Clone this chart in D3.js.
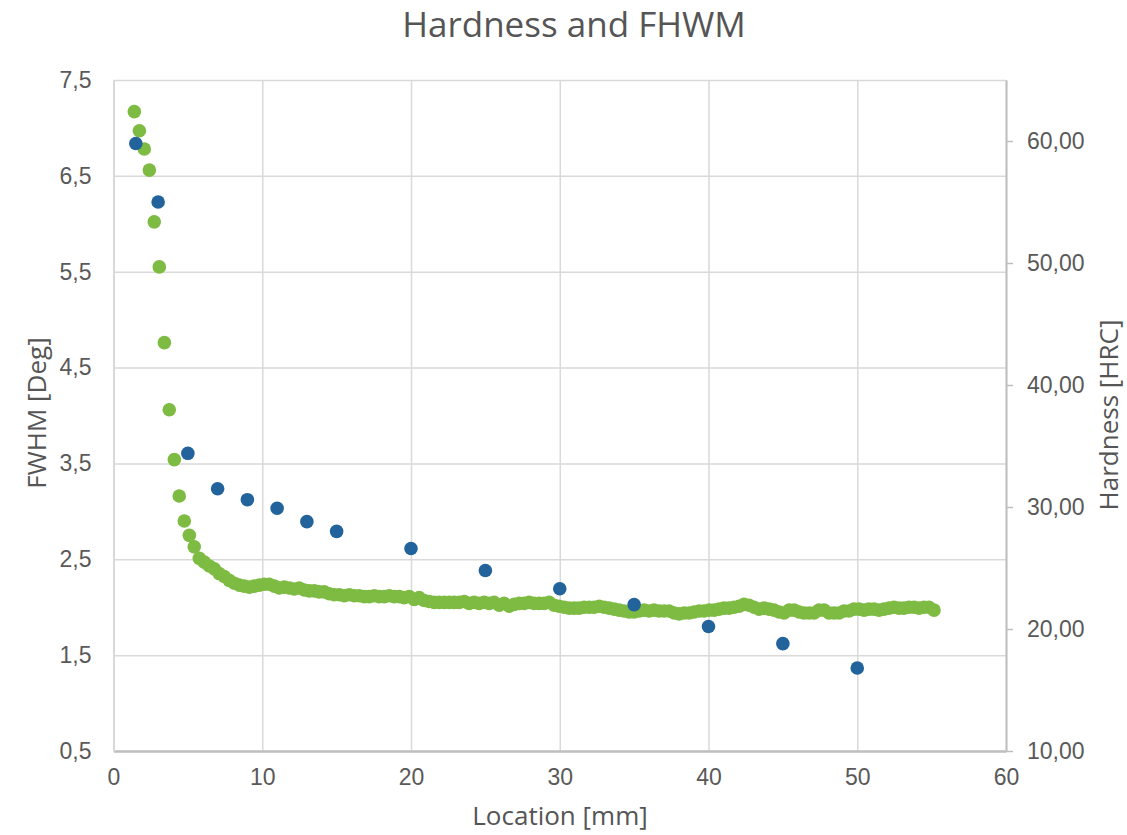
<!DOCTYPE html>
<html lang="en">
<head>
    <meta charset="UTF-8">
    <title>Hardness and FHWM</title>
    <script src="https://cdnjs.cloudflare.com/ajax/libs/d3/7.4.4/d3.min.js"></script>
    <style>
        body {
            margin: 0;
            background: #fff;
            font-family: 'Open Sans', 'Noto Sans', sans-serif;
        }
        .grid line { stroke: #d9d9d9; stroke-width: 1.5; }
        .tick text { fill: #595959; }
    </style>
</head>
<body>
    <div id="chart"></div>

    <script>
        // FWHM readings (left axis)
        const fwhmLocation = [
            1.40, 1.74, 2.07, 2.41, 2.74, 3.08, 3.42, 3.75, 4.09, 4.42,
            4.76, 5.10, 5.43, 5.77, 6.10, 6.44, 6.78, 7.11, 7.45, 7.78,
            8.12, 8.46, 8.79, 9.13, 9.46, 9.80, 10.14, 10.47, 10.81, 11.14,
            11.48, 11.82, 12.15, 12.49, 12.82, 13.16, 13.50, 13.83, 14.17, 14.50,
            14.84, 15.18, 15.51, 15.85, 16.18, 16.52, 16.86, 17.19, 17.53, 17.86,
            18.20, 18.54, 18.87, 19.21, 19.54, 19.88, 20.22, 20.55, 20.89, 21.22,
            21.56, 21.90, 22.23, 22.57, 22.90, 23.24, 23.58, 23.91, 24.25, 24.58,
            24.92, 25.26, 25.59, 25.93, 26.26, 26.60, 26.94, 27.27, 27.61, 27.94,
            28.28, 28.62, 28.95, 29.29, 29.62, 29.96, 30.30, 30.63, 30.97, 31.30,
            31.64, 31.98, 32.31, 32.65, 32.98, 33.32, 33.66, 33.99, 34.33, 34.66,
            35.00, 35.34, 35.67, 36.01, 36.34, 36.68, 37.02, 37.35, 37.69, 38.02,
            38.36, 38.70, 39.03, 39.37, 39.70, 40.04, 40.38, 40.71, 41.05, 41.38,
            41.72, 42.06, 42.39, 42.73, 43.06, 43.40, 43.74, 44.07, 44.41, 44.74,
            45.08, 45.42, 45.75, 46.09, 46.42, 46.76, 47.10, 47.43, 47.77, 48.10,
            48.44, 48.78, 49.11, 49.45, 49.78, 50.12, 50.46, 50.79, 51.13, 51.46,
            51.80, 52.14, 52.47, 52.81, 53.14, 53.48, 53.82, 54.15, 54.49, 54.82,
            55.16
        ];
        const fwhmValues = [
            7.17, 6.97, 6.78, 6.56, 6.02, 5.55, 4.76, 4.06, 3.54, 3.16,
            2.90, 2.75, 2.63, 2.51, 2.47, 2.43, 2.40, 2.35, 2.32, 2.28,
            2.25, 2.23, 2.22, 2.21, 2.22, 2.23, 2.24, 2.24, 2.22, 2.20,
            2.21, 2.20, 2.19, 2.20, 2.18, 2.17, 2.17, 2.16, 2.16, 2.14,
            2.13, 2.13, 2.12, 2.13, 2.12, 2.12, 2.11, 2.11, 2.12, 2.11,
            2.11, 2.12, 2.11, 2.11, 2.10, 2.11, 2.08, 2.10, 2.07, 2.06,
            2.05, 2.05, 2.05, 2.05, 2.05, 2.05, 2.06, 2.04, 2.05, 2.04,
            2.05, 2.04, 2.05, 2.02, 2.04, 2.01, 2.03, 2.04, 2.04, 2.05,
            2.04, 2.04, 2.04, 2.05, 2.02, 2.01, 2.00, 1.99, 1.99, 1.99,
            2.00, 2.00, 2.00, 2.01, 2.00, 1.99, 1.98, 1.97, 1.96, 1.95,
            1.95, 1.96, 1.97, 1.96, 1.97, 1.96, 1.96, 1.96, 1.94, 1.93,
            1.94, 1.94, 1.95, 1.96, 1.96, 1.97, 1.97, 1.98, 1.99, 1.99,
            2.00, 2.01, 2.03, 2.02, 2.00, 1.98, 1.99, 1.98, 1.97, 1.95,
            1.94, 1.97, 1.97, 1.95, 1.94, 1.94, 1.94, 1.97, 1.97, 1.94,
            1.94, 1.94, 1.96, 1.96, 1.98, 1.98, 1.97, 1.98, 1.98, 1.97,
            1.98, 1.99, 2.00, 1.99, 1.99, 2.00, 2.00, 1.99, 2.00, 2.00,
            1.97
        ];

        // Hardness readings (right axis)
        const hardnessLocation = [1.5, 3, 5, 7, 9, 11, 13, 15, 20, 25, 30, 35, 40, 45, 50];
        const hardnessValues = [59.8, 55.0, 34.4, 31.5, 30.6, 29.9, 28.8, 28.0, 26.6, 24.8, 23.3, 22.0, 20.2, 18.8, 16.8];

        // Tick values
        const xTicks = [0, 10, 20, 30, 40, 50, 60];
        const fwhmTicks = [0.5, 1.5, 2.5, 3.5, 4.5, 5.5, 6.5, 7.5];
        const hardnessTicks = [10, 20, 30, 40, 50, 60];

        const width = 1127, height = 835;
        const margin = { top: 80, right: 121, bottom: 84, left: 113.5 };
        const innerW = width - margin.left - margin.right;
        const innerH = height - margin.top - margin.bottom;

        const textColor = '#555';
        const comma = fmt => v => d3.format(fmt)(v).replace('.', ',');

        const svg = d3.select('#chart').append('svg')
            .attr('width', width)
            .attr('height', height);

        const g = svg.append('g')
            .attr('transform', `translate(${margin.left},${margin.top})`);

        const x = d3.scaleLinear().domain([0, 60]).range([0, innerW]);
        const yL = d3.scaleLinear().domain([0.5, 7.5]).range([innerH, 0]);
        const yR = d3.scaleLinear().domain([10, 65]).range([innerH, 0]);

        // gridlines
        g.append('g').attr('class', 'grid')
            .call(d3.axisLeft(yL).tickValues(fwhmTicks).tickSize(-innerW).tickFormat(''))
            .call(s => s.select('.domain').remove());
        g.append('g').attr('class', 'grid')
            .attr('transform', `translate(0,${innerH})`)
            .call(d3.axisBottom(x).tickValues(xTicks).tickSize(innerH).tickFormat(''))
            .call(s => s.selectAll('line').attr('y1', -innerH).attr('y2', 0))
            .call(s => s.select('.domain').remove());

        // bottom axis
        const xAxis = g.append('g')
            .attr('transform', `translate(0,${innerH})`)
            .call(d3.axisBottom(x).tickValues(xTicks).tickSize(0).tickPadding(18));
        xAxis.select('.domain').attr('stroke', '#bfbfbf').attr('stroke-width', 2.5);
        xAxis.selectAll('text').attr('font-size', 23).attr('fill', textColor);

        // left axis
        const leftAxis = g.append('g')
            .call(d3.axisLeft(yL).tickValues(fwhmTicks).tickSize(0).tickPadding(22).tickFormat(comma('.1f')));
        leftAxis.select('.domain').attr('stroke', '#d9d9d9').attr('stroke-width', 2);
        leftAxis.selectAll('text').attr('font-size', 23).attr('fill', textColor);

        // right axis
        const rightAxis = g.append('g')
            .attr('transform', `translate(${innerW},0)`)
            .call(d3.axisRight(yR).tickValues(hardnessTicks).tickSize(7).tickSizeOuter(0).tickPadding(14).tickFormat(comma('.2f')));
        rightAxis.select('.domain').attr('stroke', '#bfbfbf').attr('stroke-width', 2);
        rightAxis.selectAll('line').attr('stroke', '#bfbfbf').attr('stroke-width', 1.5);
        rightAxis.selectAll('text').attr('font-size', 23).attr('fill', textColor);

        // FWHM points
        g.append('g').selectAll('circle')
            .data(fwhmLocation.map((d, i) => ({ x: d, y: fwhmValues[i] })))
            .join('circle')
            .attr('cx', d => x(d.x))
            .attr('cy', d => yL(d.y))
            .attr('r', 6.8)
            .attr('fill', '#7dbb42');

        // Hardness points
        g.append('g').selectAll('circle')
            .data(hardnessLocation.map((d, i) => ({ x: d, y: hardnessValues[i] })))
            .join('circle')
            .attr('cx', d => x(d.x))
            .attr('cy', d => yR(d.y))
            .attr('r', 6.8)
            .attr('fill', '#22639c');

        // titles
        svg.append('text')
            .attr('x', 574).attr('y', 37)
            .attr('text-anchor', 'middle')
            .attr('font-size', 35)
            .attr('fill', textColor)
            .text('Hardness and FHWM');

        svg.append('text')
            .attr('x', 560).attr('y', 825)
            .attr('text-anchor', 'middle')
            .attr('font-size', 26)
            .attr('fill', textColor)
            .text('Location [mm]');

        svg.append('text')
            .attr('transform', 'translate(46,413) rotate(-90)')
            .attr('text-anchor', 'middle')
            .attr('font-size', 26)
            .attr('fill', textColor)
            .text('FWHM [Deg]');

        svg.append('text')
            .attr('transform', 'translate(1118,415) rotate(-90)')
            .attr('text-anchor', 'middle')
            .attr('font-size', 26)
            .attr('fill', textColor)
            .text('Hardness [HRC]');
    </script>
</body>
</html>
